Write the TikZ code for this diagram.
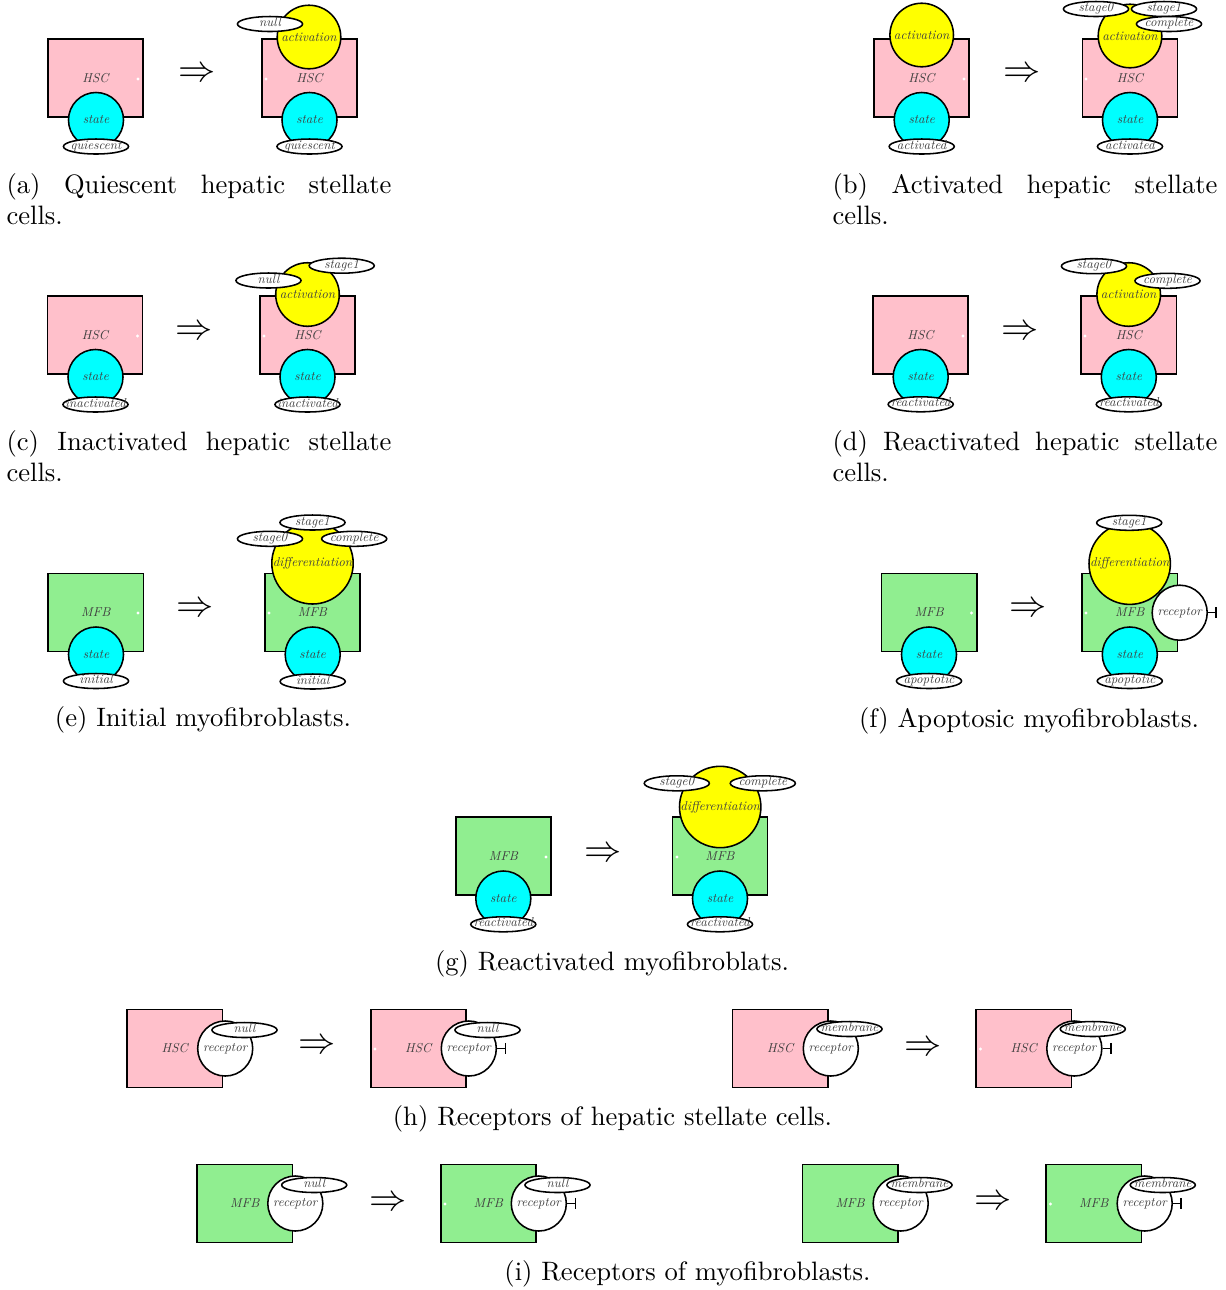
\documentclass[tikz,border=0pt]{standalone}
\usepackage{graphicx}
\usetikzlibrary{shapes.geometric, arrows.meta, positioning}

\definecolor{hscpink}{HTML}{FFC0CB}
\definecolor{mfbgreen}{HTML}{90EE90}
\definecolor{statecyan}{HTML}{00FFFF}
\definecolor{actyellow}{HTML}{FFFF00}

% box that holds the text of a shape before it is shrunk
\newsavebox{\celltext}

\tikzset{
    halftext/.style={font=\normalsize\itshape, text=black!75,
        execute at begin node={\setbox\celltext=\hbox\bgroup}},
    shrunk/.style={halftext,
        execute at end node={\egroup\scalebox{0.5}{\usebox{\celltext}}}},
    cellbox/.style={shrunk, draw, semithick, minimum width=36.8pt, minimum height=30.2pt, inner sep=0pt},
    hsc/.style={cellbox, fill=hscpink},
    mfb/.style={cellbox, fill=mfbgreen},
    bubble/.style={shrunk, circle, draw, semithick, inner sep=0pt},
    statecirc/.style={bubble, fill=statecyan, minimum size=21.3pt},
    actcirc/.style={bubble, fill=actyellow, minimum size=24.6pt},
    diffcirc/.style={bubble, fill=actyellow, minimum size=31.5pt},
    reccirc/.style={bubble, fill=white, minimum size=21.3pt},
    unitell/.style={halftext, ellipse, draw, semithick, fill=white, inner sep=0pt,
        minimum width=25.2pt, minimum height=5.8pt, text height=2.5pt, text depth=0.5pt,
        execute at end node={\egroup\hbox to 0pt{\hss\scalebox{0.5}{\usebox{\celltext}}\hss}}},
    whitedot/.style={circle, fill=white, inner sep=0pt, minimum size=1.2pt},
    thenarrow/.style={inner sep=0pt, font=\fontsize{15.5}{18}\selectfont},
    subcap/.style={inner sep=0pt, font=\fontsize{10.3}{12.4}\selectfont},
    teeline/.style={semithick, -{Bar[width=4.3pt]}}
}

\begin{document}
\begin{tikzpicture}[x=0.387pt, y=-0.387pt]

    % Fix the page to the size of the whole figure
    \useasboundingbox (0,0) rectangle (1225,1290);

    % (a) Quiescent hepatic stellate cells
    \node[hsc] (aL) at (95.5,78) {HSC};
    \node[statecirc] (aLs) at (96,120) {state};
    \node[unitell] (aLu) at (96,146.5) {quiescent};
    \node[whitedot] (aLd) at (138,79) {};
    \node[thenarrow] (aA) at (197,75) {$\Rightarrow$};
    \node[hsc] (aR) at (309.5,78) {HSC};
    \node[actcirc] (aRa) at (309,37) {activation};
    \node[unitell] (aRn) at (270,24) {null};
    \node[statecirc] (aRs) at (309.5,120) {state};
    \node[unitell] (aRu) at (309.5,146.5) {quiescent};
    \node[whitedot] (aRd) at (266,79) {};
    \node[subcap, anchor=base west] (capA) at (6,193) {\makebox[149pt][s]{(a) Quiescent hepatic stellate}};
    \node[subcap, anchor=base west] (capA2) at (6,224) {cells.};

    % (b) Activated hepatic stellate cells
    \node[hsc] (bL) at (921.5,78) {HSC};
    \node[actcirc] (bLa) at (921.7,35) {activation};
    \node[statecirc] (bLs) at (921.7,120) {state};
    \node[unitell] (bLu) at (921.7,146.5) {activated};
    \node[whitedot] (bLd) at (964,79) {};
    \node[thenarrow] (bA) at (1021.7,75) {$\Rightarrow$};
    \node[hsc] (bR) at (1130,78) {HSC};
    \node[actcirc] (bRa) at (1130,36) {activation};
    \node[unitell] (bR0) at (1096,9) {stage0};
    \node[unitell] (bR1) at (1164,9) {stage1};
    \node[unitell] (bRc) at (1169,24) {complete};
    \node[statecirc] (bRs) at (1130,120) {state};
    \node[unitell] (bRu) at (1130,146.5) {activated};
    \node[whitedot] (bRd) at (1086,79) {};
    \node[subcap, anchor=base west] (capB) at (832,193) {\makebox[149pt][s]{(b) Activated hepatic stellate}};
    \node[subcap, anchor=base west] (capB2) at (832,224) {cells.};

    % (c) Inactivated hepatic stellate cells
    \node[hsc] (cL) at (95,335) {HSC};
    \node[statecirc] (cLs) at (95.5,377) {state};
    \node[unitell] (cLu) at (95.5,404.5) {inactivated};
    \node[whitedot] (cLd) at (137.5,336) {};
    \node[thenarrow] (cA) at (194.5,333) {$\Rightarrow$};
    \node[hsc] (cR) at (307.5,335) {HSC};
    \node[actcirc] (cRa) at (307.5,294.5) {activation};
    \node[unitell] (cRn) at (268.5,280.5) {null};
    \node[unitell] (cR1) at (341.7,265.7) {stage1};
    \node[statecirc] (cRs) at (307.5,377) {state};
    \node[unitell] (cRu) at (307.5,404.5) {inactivated};
    \node[whitedot] (cRd) at (264,336) {};
    \node[subcap, anchor=base west] (capC) at (6,450) {\makebox[149pt][s]{(c) Inactivated hepatic stellate}};
    \node[subcap, anchor=base west] (capC2) at (6,481) {cells.};

    % (d) Reactivated hepatic stellate cells
    \node[hsc] (dL) at (920.5,335) {HSC};
    \node[statecirc] (dLs) at (920.7,377) {state};
    \node[unitell] (dLu) at (920.7,404.3) {reactivated};
    \node[whitedot] (dLd) at (963,336) {};
    \node[thenarrow] (dA) at (1020,333) {$\Rightarrow$};
    \node[hsc] (dR) at (1128.8,335) {HSC};
    \node[actcirc] (dRa) at (1128.7,294.5) {activation};
    \node[unitell] (dR0) at (1094,266.2) {stage0};
    \node[unitell] (dRc) at (1167.5,280.8) {complete};
    \node[statecirc] (dRs) at (1128.8,377) {state};
    \node[unitell] (dRu) at (1128.8,404.3) {reactivated};
    \node[whitedot] (dRd) at (1085,336) {};
    \node[subcap, anchor=base west] (capD) at (832,450) {\makebox[149pt][s]{(d) Reactivated hepatic stellate}};
    \node[subcap, anchor=base west] (capD2) at (832,481) {cells.};

    % (e) Initial myofibroblasts
    \node[mfb] (eL) at (95.8,612.5) {MFB};
    \node[statecirc] (eLs) at (96,654.5) {state};
    \node[unitell] (eLu) at (96,681) {initial};
    \node[whitedot] (eLd) at (138,613) {};
    \node[thenarrow] (eA) at (195,610) {$\Rightarrow$};
    \node[mfb] (eR) at (312.5,612.5) {MFB};
    \node[diffcirc] (eRa) at (312.5,563.3) {differentiation};
    \node[unitell] (eR1) at (312.5,522.5) {stage1};
    \node[unitell] (eR0) at (270,538.8) {stage0};
    \node[unitell] (eRc) at (354.2,538.8) {complete};
    \node[statecirc] (eRs) at (312.7,654.5) {state};
    \node[unitell] (eRu) at (312.7,681.5) {initial};
    \node[whitedot] (eRd) at (269,613) {};
    \node[subcap, anchor=base] (capE) at (203,726) {(e) Initial myofibroblasts.};

    % (f) Apoptosic myofibroblasts
    \node[mfb] (fL) at (929.2,612.5) {MFB};
    \node[statecirc] (fLs) at (929,654.5) {state};
    \node[unitell] (fLu) at (929,681) {apoptotic};
    \node[whitedot] (fLd) at (971.5,613) {};
    \node[thenarrow] (fA) at (1028.3,610) {$\Rightarrow$};
    \node[mfb] (fR) at (1129.8,612.5) {MFB};
    \node[diffcirc] (fRa) at (1129.7,563.7) {differentiation};
    \node[unitell] (fR1) at (1129.2,522.8) {stage1};
    \node[reccirc] (fRr) at (1179.7,612.7) {receptor};
    \node[statecirc] (fRs) at (1129.8,654.5) {state};
    \node[unitell] (fRu) at (1129.8,681) {apoptotic};
    \node[whitedot] (fRd) at (1086,613) {};
    \coordinate[right=3.5pt of fRr] (fRt);
    \draw[teeline] (fRr) -- (fRt);
    \node[subcap, anchor=base] (capF) at (1029,727) {(f) Apoptosic myofibroblasts.};

    % (g) Reactivated myofibroblasts
    \node[mfb] (gL) at (503.5,856.2) {MFB};
    \node[statecirc] (gLs) at (503.3,898.5) {state};
    \node[unitell] (gLu) at (503.3,924.3) {reactivated};
    \node[whitedot] (gLd) at (546,857) {};
    \node[thenarrow] (gA) at (602.7,855) {$\Rightarrow$};
    \node[mfb] (gR) at (720,856.2) {MFB};
    \node[diffcirc] (gRa) at (720.2,807) {differentiation};
    \node[unitell] (gR0) at (676.8,783.3) {stage0};
    \node[unitell] (gRc) at (762.8,783.3) {complete};
    \node[statecirc] (gRs) at (720,898.5) {state};
    \node[unitell] (gRu) at (720,924.3) {reactivated};
    \node[whitedot] (gRd) at (677,857) {};
    \node[subcap, anchor=base] (capG) at (612,970) {(g) Reactivated myofibroblats.};

    % (h) Receptors of hepatic stellate cells
    \node[hsc] (hA) at (174.8,1048.3) {HSC};
    \node[reccirc] (hAr) at (225.2,1048.5) {receptor};
    \node[unitell] (hAn) at (244.5,1030) {null};
    \node[thenarrow] (hAB) at (316.7,1046.7) {$\Rightarrow$};
    \node[hsc] (hB) at (418.3,1048.3) {HSC};
    \node[reccirc] (hBr) at (468.8,1048.5) {receptor};
    \node[unitell] (hBn) at (487.5,1030) {null};
    \node[whitedot] (hBd) at (375,1049) {};
    \coordinate[right=3.5pt of hBr] (hBt);
    \draw[teeline] (hBr) -- (hBt);

    \node[hsc] (hC) at (780.2,1048.3) {HSC};
    \node[reccirc] (hCr) at (830.8,1048.5) {receptor};
    \node[unitell] (hCm) at (849.5,1029) {membrane};
    \node[thenarrow] (hCD) at (923.3,1048.3) {$\Rightarrow$};
    \node[hsc] (hD) at (1023.8,1048.3) {HSC};
    \node[reccirc] (hDr) at (1074.3,1048.5) {receptor};
    \node[unitell] (hDm) at (1092.8,1029) {membrane};
    \node[whitedot] (hDd) at (980.5,1049) {};
    \coordinate[right=3.5pt of hDr] (hDt);
    \draw[teeline] (hDr) -- (hDt);
    \node[subcap, anchor=base] (capH) at (612.5,1125) {(h) Receptors of hepatic stellate cells.};

    % (i) Receptors of myofibroblasts
    \node[mfb] (iA) at (244.8,1203.3) {MFB};
    \node[reccirc] (iAr) at (295.3,1203.5) {receptor};
    \node[unitell] (iAn) at (314.2,1185) {null};
    \node[thenarrow] (iAB) at (387.7,1203.3) {$\Rightarrow$};
    \node[mfb] (iB) at (488.3,1203.3) {MFB};
    \node[reccirc] (iBr) at (538.8,1203.5) {receptor};
    \node[unitell] (iBn) at (557.5,1185) {null};
    \node[whitedot] (iBd) at (445,1204) {};
    \coordinate[right=3.5pt of iBr] (iBt);
    \draw[teeline] (iBr) -- (iBt);

    \node[mfb] (iC) at (850.2,1203.3) {MFB};
    \node[reccirc] (iCr) at (900.7,1203.5) {receptor};
    \node[unitell] (iCm) at (919.5,1185) {membrane};
    \node[thenarrow] (iCD) at (993.3,1203) {$\Rightarrow$};
    \node[mfb] (iD) at (1093.8,1203.3) {MFB};
    \node[reccirc] (iDr) at (1144.7,1203.5) {receptor};
    \node[unitell] (iDm) at (1162.8,1185) {membrane};
    \node[whitedot] (iDd) at (1050.5,1204) {};
    \coordinate[right=3.5pt of iDr] (iDt);
    \draw[teeline] (iDr) -- (iDt);
    \node[subcap, anchor=base] (capI) at (687.5,1280) {(i) Receptors of myofibroblasts.};

\end{tikzpicture}
\end{document}
